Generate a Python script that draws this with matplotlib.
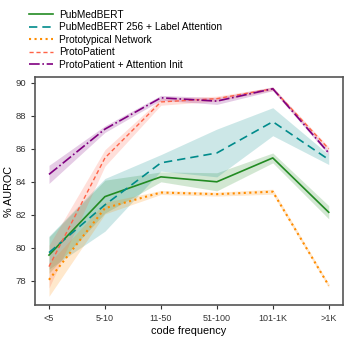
import matplotlib
matplotlib.use("Agg")
from matplotlib import pyplot as plt
import numpy as np

plt.rcParams['font.family'] = ['Liberation Sans', 'DejaVu Sans']

categories = ["<5", "5-10", "11-50", "51-100", "101-1K", ">1K"]

labels = ["PubMedBERT", "PubMedBERT 256 + Label Attention", "Prototypical Network",
          "ProtoPatient", "ProtoPatient + Attention Init"]

# mean AUROC per frequency bucket
pubmedbert = [79.55, 83.1, 84.3, 84.0, 85.45, 82.15]
pubmedbert_la = [79.7, 82.6, 85.15, 85.75, 87.65, 85.35]
protonet = [78.05, 82.4, 83.35, 83.25, 83.4, 77.7]
protopatient = [78.85, 85.45, 88.85, 89.05, 89.65, 86.0]
protopatient_init = [84.45, 87.2, 89.1, 88.9, 89.65, 85.75]

# band half widths
pubmedbert_err = [1.1, 1.0, 0.3, 0.55, 0.3, 0.4]
pubmedbert_la_err = [1.0, 1.6, 0.5, 1.45, 0.85, 0.3]
protonet_err = [1.0, 0.35, 0.12, 0.12, 0.15, 0.12]
protopatient_err = [1.3, 0.5, 0.2, 0.15, 0.1, 0.12]
protopatient_init_err = [0.55, 0.2, 0.15, 0.2, 0.12, 0.12]

means = [pubmedbert, pubmedbert_la, protonet, protopatient, protopatient_init]
errs = [pubmedbert_err, pubmedbert_la_err, protonet_err, protopatient_err, protopatient_init_err]
colors = ['forestgreen', 'darkcyan', 'darkorange', 'tomato', 'purple']
styles = ['-', (0, (5, 3)), ':', (0, (3, 2)), '-.']
widths = [1.2, 1.2, 1.5, 1.0, 1.2]

fig = plt.figure(figsize=(3.49, 3.38), dpi=100)
ax = fig.add_axes([0.1003, 0.0967, 0.8817, 0.6753])

x = np.arange(len(categories))
for m, e, c, ls, lw, lab in zip(means, errs, colors, styles, widths, labels):
    m = np.array(m)
    e = np.array(e)
    ax.fill_between(x, m - e, m + e, color=c, alpha=0.2, linewidth=0)
    ax.plot(x, m, color=c, linestyle=ls, linewidth=lw, label=lab)

ax.set_xticks(x)
ax.set_xticklabels(categories, fontsize=6.5)
ax.set_yticks([78, 80, 82, 84, 86, 88, 90])
ax.tick_params(axis='y', labelsize=6.8)
ax.tick_params(length=3, width=0.8, colors='#333333')
ax.set_xlim(-0.25, 5.25)
ax.set_ylim(76.5, 90.36)
ax.set_xlabel("code frequency", fontsize=7.8, labelpad=2)
ax.set_ylabel("% AUROC", fontsize=7.8, labelpad=1)
for sp in ax.spines.values():
    sp.set_color('#555555')
    sp.set_linewidth(1.2)

ax.legend(loc='lower left', bbox_to_anchor=(-0.04, 1.005), frameon=False, fontsize=7.3,
          handlelength=2.4, handletextpad=0.6, labelspacing=0.25, borderaxespad=0.2)

fig.savefig("out.png", dpi=100)
